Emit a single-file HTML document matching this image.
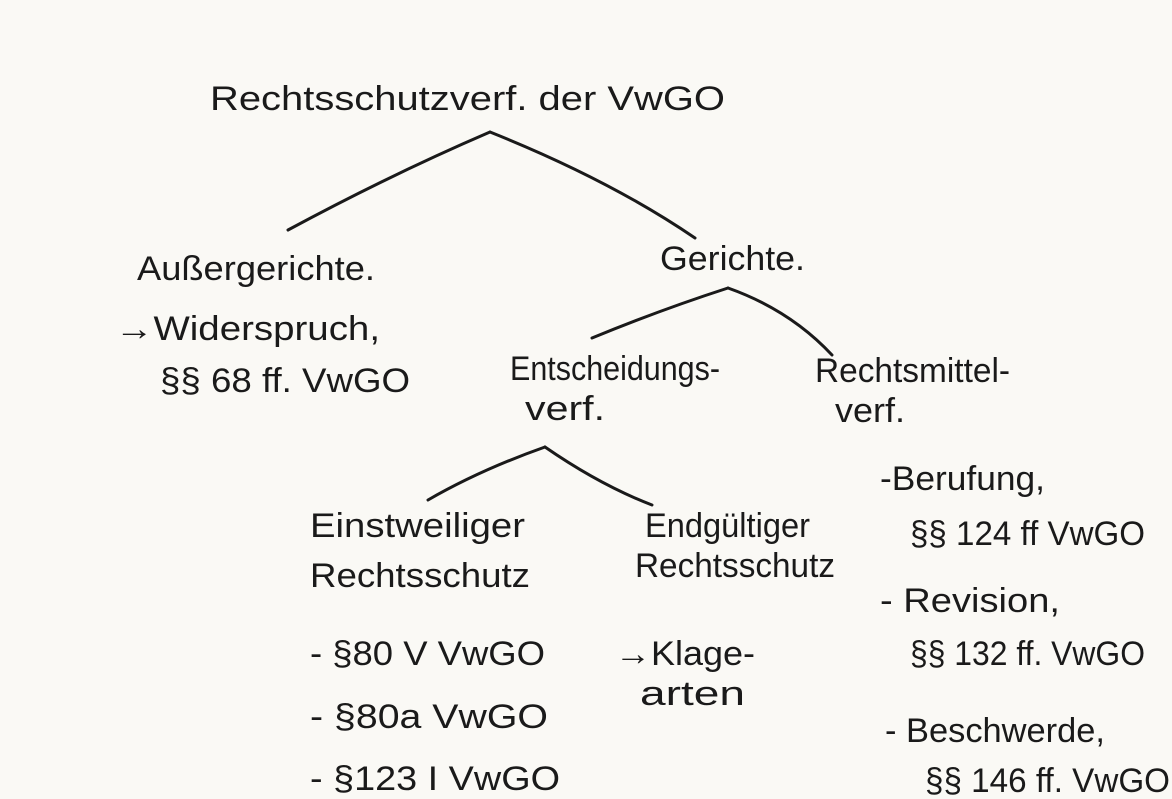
<!DOCTYPE html>
<html><head><meta charset="utf-8"><style>
html,body{margin:0;padding:0;background:#faf9f5;}
svg{display:block}
text{font-family:"Liberation Sans",sans-serif;fill:#1a1a1a;}
</style></head><body>
<svg width="1172" height="799" viewBox="0 0 1172 799" xmlns="http://www.w3.org/2000/svg">
<rect width="1172" height="799" fill="#faf9f5"/>
<g stroke="#1a1a1a" stroke-width="3" fill="none" stroke-linecap="round">
<path d="M490 132 Q390 175 288 230"/>
<path d="M490 132 Q610 180 695 238"/>
<path d="M728 288 Q660 310 592 338"/>
<path d="M728 288 Q790 310 832 355"/>
<path d="M545 447 Q480 470 428 500"/>
<path d="M545 447 Q600 485 652 505"/>
</g>
<g font-size="34">
<text x="210" y="110" textLength="515" lengthAdjust="spacingAndGlyphs">Rechtsschutzverf. der VwGO</text>
<text x="137" y="280" textLength="238" lengthAdjust="spacingAndGlyphs">Außergerichte.</text>
<text x="660" y="270" textLength="145" lengthAdjust="spacingAndGlyphs">Gerichte.</text>
<text x="115" y="340" textLength="265" lengthAdjust="spacingAndGlyphs">→Widerspruch,</text>
<text x="160" y="392" textLength="250" lengthAdjust="spacingAndGlyphs">§§ 68 ff. VwGO</text>
<text x="510" y="380" textLength="210" lengthAdjust="spacingAndGlyphs">Entscheidungs-</text>
<text x="525" y="420" textLength="80" lengthAdjust="spacingAndGlyphs">verf.</text>
<text x="815" y="382" textLength="195" lengthAdjust="spacingAndGlyphs">Rechtsmittel-</text>
<text x="835" y="422" textLength="70" lengthAdjust="spacingAndGlyphs">verf.</text>
<text x="310" y="537" textLength="215" lengthAdjust="spacingAndGlyphs">Einstweiliger</text>
<text x="310" y="587" textLength="220" lengthAdjust="spacingAndGlyphs">Rechtsschutz</text>
<text x="645" y="537" textLength="165" lengthAdjust="spacingAndGlyphs">Endgültiger</text>
<text x="635" y="577" textLength="200" lengthAdjust="spacingAndGlyphs">Rechtsschutz</text>
<text x="880" y="490" textLength="165" lengthAdjust="spacingAndGlyphs">-Berufung,</text>
<text x="910" y="545" textLength="235" lengthAdjust="spacingAndGlyphs">§§ 124 ff VwGO</text>
<text x="880" y="612" textLength="180" lengthAdjust="spacingAndGlyphs">- Revision,</text>
<text x="910" y="665" textLength="235" lengthAdjust="spacingAndGlyphs">§§ 132 ff. VwGO</text>
<text x="885" y="742" textLength="220" lengthAdjust="spacingAndGlyphs">- Beschwerde,</text>
<text x="925" y="792" textLength="245" lengthAdjust="spacingAndGlyphs">§§ 146 ff. VwGO</text>
<text x="310" y="665" textLength="235" lengthAdjust="spacingAndGlyphs">- §80 V VwGO</text>
<text x="310" y="728" textLength="238" lengthAdjust="spacingAndGlyphs">- §80a VwGO</text>
<text x="310" y="790" textLength="250" lengthAdjust="spacingAndGlyphs">- §123 I VwGO</text>
<text x="615" y="665" textLength="140" lengthAdjust="spacingAndGlyphs">→Klage-</text>
<text x="640" y="705" textLength="105" lengthAdjust="spacingAndGlyphs">arten</text>
</g>
</svg>
</body></html>
